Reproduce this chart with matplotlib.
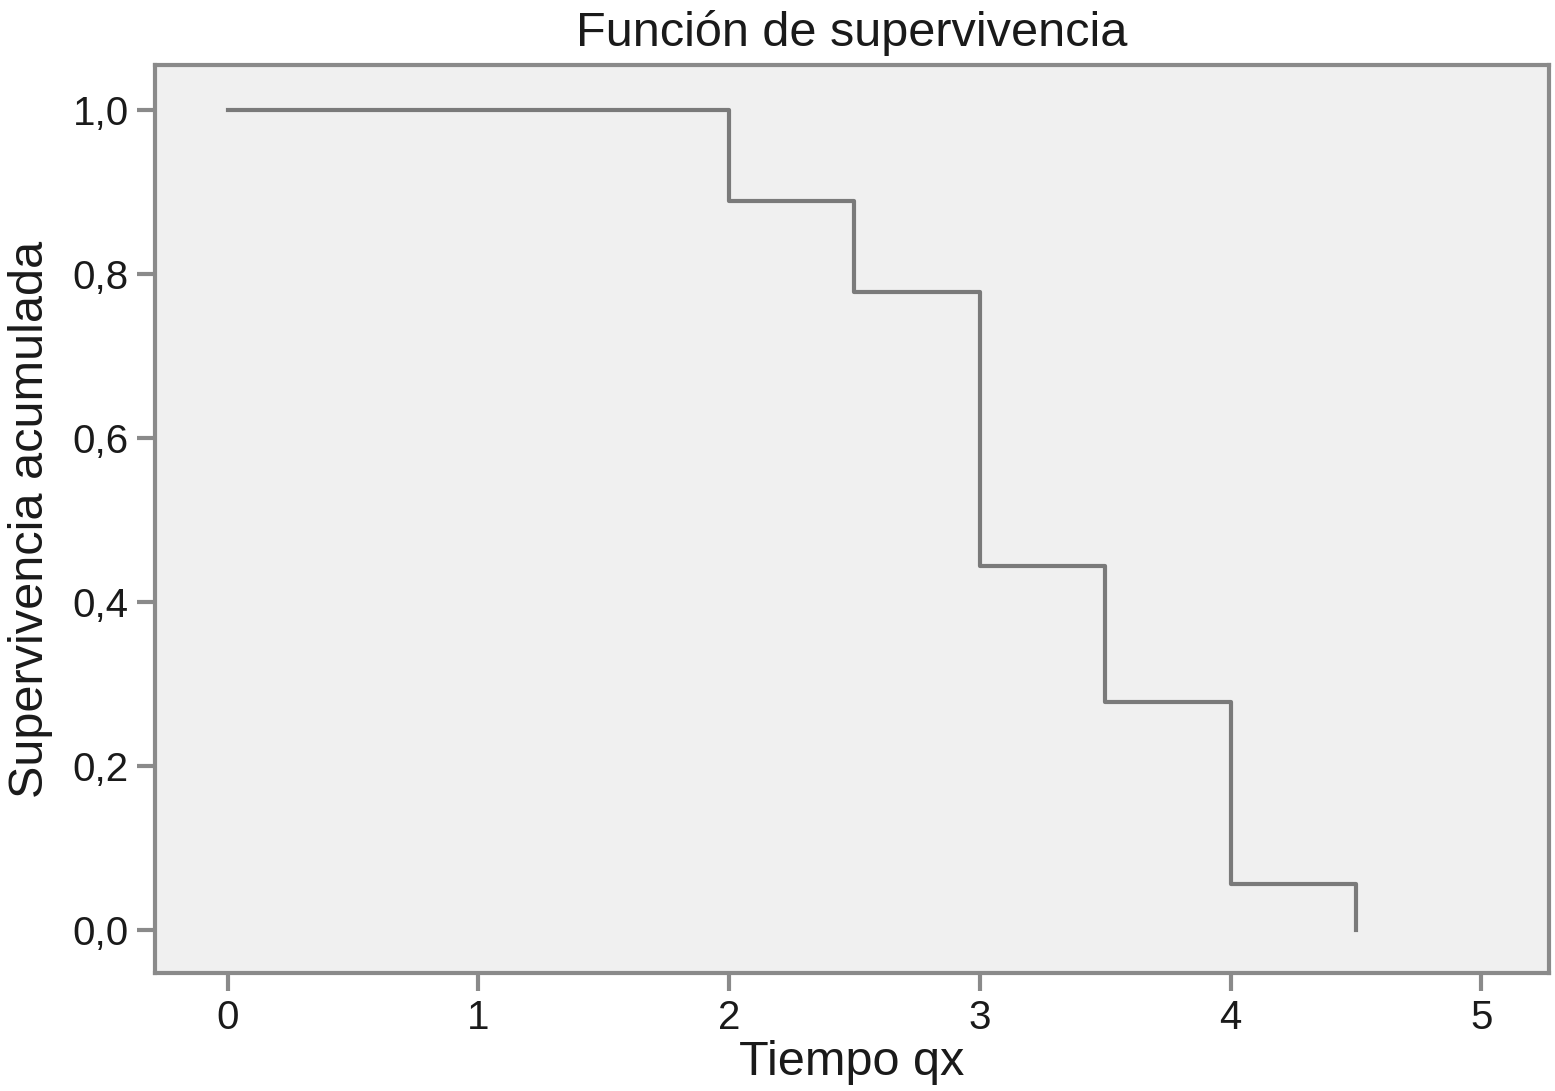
import matplotlib
matplotlib.use("Agg")
import matplotlib.pyplot as plt

# Kaplan-Meier step data
tiempo = [0, 2, 2.5, 3, 3.5, 4, 4.5]
supervivencia = [1.0, 0.889, 0.778, 0.444, 0.278, 0.056, 0.0]
x_ticks = [0, 1, 2, 3, 4, 5]
y_ticks = [0.0, 0.2, 0.4, 0.6, 0.8, 1.0]
y_labels = ["0,0", "0,2", "0,4", "0,6", "0,8", "1,0"]

plt.rcParams['font.family'] = ['Liberation Sans', 'DejaVu Sans']

fig = plt.figure(figsize=(15.55, 10.91), dpi=100)
ax = fig.add_axes([0.0997, 0.1082, 0.8964, 0.8322])
ax.set_facecolor('#f0f0f0')

ax.step(tiempo, supervivencia, where='post', color='#7a7a7a', lw=3)

ax.set_xlim(-0.29, 5.27)
ax.set_ylim(-0.0525, 1.055)
ax.set_xticks(x_ticks)
ax.set_yticks(y_ticks)
ax.set_yticklabels(y_labels)

for s in ax.spines.values():
    s.set_color('#8a8a8a')
    s.set_linewidth(3)
ax.tick_params(length=13, width=3, color='#8a8a8a', labelsize=29, labelcolor='#1a1a1a', pad=6)

ax.set_title("Función de supervivencia", fontsize=35, color='#1a1a1a', pad=14)
ax.set_xlabel("Tiempo qx", fontsize=35, color='#1a1a1a', labelpad=2)
ax.set_ylabel("Supervivencia acumulada", fontsize=35, color='#1a1a1a', labelpad=14)

fig.savefig("out.png", dpi=100)
